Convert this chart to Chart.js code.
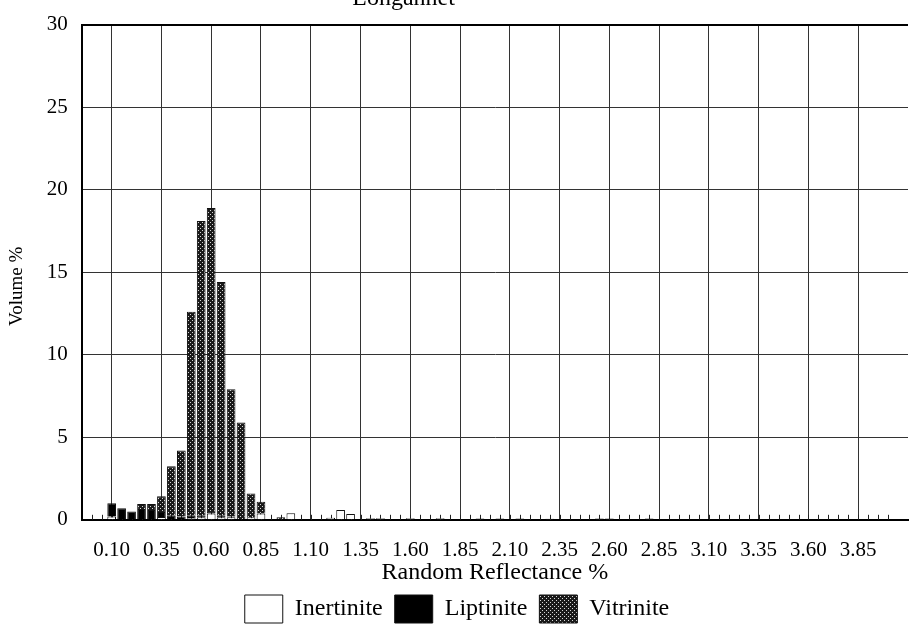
<!DOCTYPE html>
<html>
<head>
<meta charset="utf-8">
<script src="https://cdn.jsdelivr.net/npm/chart.js@4/dist/chart.umd.min.js"></script>
<style>
  html, body { margin: 0; padding: 0; background: #fff; }
  #wrap { width: 909px; height: 628px; }
</style>
</head>
<body>
<div id="wrap"><canvas id="ReflChart"></canvas></div>
<script>
// reflectance classes (%)
const reflectance = [0.10, 0.15, 0.20, 0.25, 0.30, 0.35, 0.40, 0.45, 0.50, 0.55, 0.60, 0.65, 0.70, 0.75, 0.80, 0.85,
  0.95, 1.00, 1.20, 1.25, 1.30, 1.40, 1.45, 1.60, 1.75, 1.95, 2.05, 2.15, 2.30, 2.55, 2.60, 2.80];
const inertinite = [0.2, 0, 0, 0, 0, 0.17, 0.05, 0.05, 0.1, 0.15, 0.38, 0.15, 0.15, 0, 0.15, 0.38,
  0, 0.4, 0.12, 0.6, 0.35, 0.1, 0.1, 0.1, 0.1, 0.08, 0.08, 0.08, 0.07, 0.08, 0.08, 0.08];
const liptinite = [0.8, 0.7, 0.5, 0.65, 0.6, 0.3, 0.2, 0.15, 0.15, 0.1, 0.1, 0.1, 0.05, 0.05, 0, 0,
  0.05, 0, 0, 0, 0, 0, 0, 0, 0, 0, 0, 0, 0, 0, 0, 0];
const vitrinite = [0, 0, 0, 0.3, 0.35, 0.95, 3.0, 4.0, 12.35, 17.85, 18.4, 14.15, 7.7, 5.85, 1.45, 0.72,
  0.1, 0, 0, 0, 0, 0, 0, 0, 0, 0, 0, 0, 0, 0, 0, 0];
const xTickLabels = ['0.10', '0.35', '0.60', '0.85', '1.10', '1.35', '1.60', '1.85', '2.10', '2.35', '2.60', '2.85', '3.10', '3.35', '3.60', '3.85'];
const yTicks = [0, 5, 10, 15, 20, 25, 30];

const serif = '"Liberation Serif", "DejaVu Serif", serif';

// stippled fill for vitrinite
function stipple() {
  const c = document.createElement('canvas');
  c.width = 4; c.height = 4;
  const g = c.getContext('2d');
  g.fillStyle = '#1a1a1a';
  g.fillRect(0, 0, 4, 4);
  g.fillStyle = '#d8d8d8';
  g.fillRect(0, 0, 1, 1);
  g.fillRect(2, 2, 1, 1);
  return g.createPattern(c, 'repeat');
}

function pts(vals) {
  return reflectance.map((r, i) => ({ x: r, y: vals[i] > 0 ? vals[i] : null }));
}

// little class ticks along the bottom axis + cut-off title
const extras = {
  id: 'extras',
  beforeDatasetsDraw(chart) {
    const xs = chart.scales.x, ys = chart.scales.y;
    const ctx = chart.ctx;
    const y0 = ys.getPixelForValue(0);
    ctx.save();
    ctx.strokeStyle = '#222';
    ctx.lineWidth = 1;
    for (let k = 1; k <= 81; k++) {
      const px = Math.round(xs.getPixelForValue(k * 0.05 - 0.05)) + 0.5;
      ctx.beginPath();
      ctx.moveTo(px, y0);
      ctx.lineTo(px, y0 - 5);
      ctx.stroke();
    }
    ctx.restore();
  },
  afterDraw(chart) {
    const ctx = chart.ctx;
    ctx.save();
    ctx.font = '24px ' + serif;
    ctx.fillStyle = '#000';
    ctx.textAlign = 'center';
    ctx.textBaseline = 'alphabetic';
    ctx.fillText('Longannet', chart.width * 0.444, 5);
    ctx.restore();
  }
};

const common = { borderColor: '#111', borderWidth: 1, categoryPercentage: 0.92, barPercentage: 0.95 };

const ctx = document.getElementById('ReflChart');
const myChart = new Chart(ctx, {
  type: 'bar',
  data: {
    datasets: [
      Object.assign({ label: 'Inertinite', data: pts(inertinite), backgroundColor: '#fff' }, common),
      Object.assign({ label: 'Liptinite', data: pts(liptinite), backgroundColor: '#000' }, common),
      Object.assign({ label: 'Vitrinite', data: pts(vitrinite), backgroundColor: stipple() }, common)
    ]
  },
  options: {
    responsive: true,
    maintainAspectRatio: false,
    animation: false,
    layout: { padding: { top: 0, right: 1, left: 6, bottom: -5 } },
    plugins: {
      title: { display: false },
      tooltip: { enabled: false },
      legend: {
        position: 'bottom',
        labels: {
          color: '#000',
          font: { family: serif, size: 24 },
          boxWidth: 38,
          boxHeight: 28,
          padding: 12
        }
      }
    },
    scales: {
      x: {
        type: 'linear',
        stacked: true,
        offset: false,
        min: -0.05,
        max: 4.10,
        afterBuildTicks(scale) {
          scale.ticks = xTickLabels.map(v => ({ value: parseFloat(v) }));
        },
        ticks: {
          autoSkip: false,
          maxRotation: 0,
          minRotation: 0,
          padding: 18,
          color: '#000',
          font: { family: serif, size: 21 },
          callback: v => v.toFixed(2)
        },
        grid: { offset: false, color: '#333', lineWidth: 1, drawTicks: false },
        border: { color: '#000', width: 2 },
        title: {
          display: true,
          text: 'Random Reflectance %',
          color: '#000',
          font: { family: serif, size: 24, lineHeight: 1 },
          padding: { top: -20, bottom: -2 }
        }
      },
      y: {
        stacked: true,
        min: 0,
        max: 30,
        afterBuildTicks(scale) {
          scale.ticks = yTicks.map(v => ({ value: v }));
        },
        ticks: {
          padding: 14,
          color: '#000',
          font: { family: serif, size: 21, lineHeight: 1 }
        },
        grid: {
          drawTicks: false,
          color: c => c.tick && c.tick.value === 30 ? '#000' : '#333',
          lineWidth: c => c.tick && c.tick.value === 30 ? 2 : 1
        },
        border: { color: '#000', width: 2 },
        title: {
          display: true,
          text: 'Volume %      ',
          color: '#000',
          font: { family: serif, size: 19 },
          padding: { top: 0, bottom: 4 }
        }
      }
    }
  },
  plugins: [extras]
});
</script>
</body>
</html>
